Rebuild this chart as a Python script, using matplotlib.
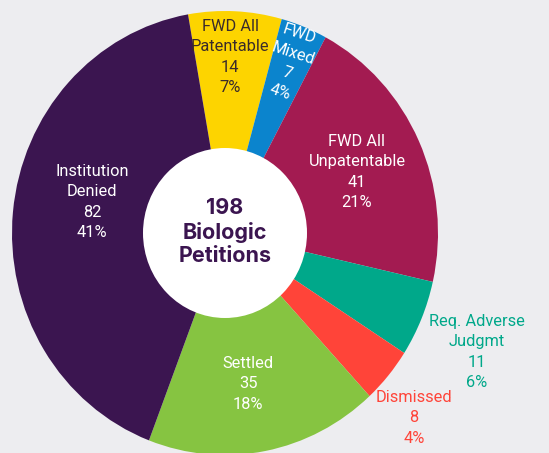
import matplotlib.pyplot as plt
from matplotlib.patches import Ellipse

# data
labels = ["FWD All\nPatentable", "FWD\nMixed", "FWD All\nUnpatentable",
          "Req. Adverse\nJudgmt", "Dismissed", "Settled", "Institution\nDenied"]
counts = [14, 7, 41, 11, 8, 35, 82]
colors = ["#FDD400", "#0B84CD", "#A31B51", "#00A88A", "#FF4439", "#86C441", "#3B1550"]
text_colors = ["#3A2B2B", "white", "white", "#00A88A", "#FF4439", "white", "white"]
total = sum(counts)

# label layout (pixel position from top-left, rotation)
label_px = [(230, 57), (290, 63), (357, 172), (477, 352), (414, 418), (248, 384), (92, 202)]
label_rot = [0, -18, 0, 0, 0, 0, 0]

W, H = 549, 453
cx, cy = 225, 233     # centre in pixels
rx, ry = 213, 222     # outer radius in pixels (slightly stretched vertically)
hole_rx, hole_ry = 82, 85

plt.rcParams['font.family'] = ['Roboto', 'DejaVu Sans']

fig = plt.figure(figsize=(W / 100, H / 100), dpi=100)
fig.patch.set_facecolor("#EDEDF0")
ax = fig.add_axes([0, 0, 1, 1])

ax.pie(counts, colors=colors, startangle=100, counterclock=False,
       radius=1, center=(0, 0), wedgeprops=dict(linewidth=0))
ax.add_patch(Ellipse((0, 0), 2 * hole_rx / rx, 2 * hole_ry / ry,
                     facecolor="white", edgecolor="none", zorder=5))

ax.set_aspect('auto')
ax.set_xlim(-cx / rx, (W - cx) / rx)
ax.set_ylim(-(H - cy) / ry, cy / ry)
ax.axis('off')

def to_data(px, py):
    return (px - cx) / rx, (cy - py) / ry

for lab, n, col, (px, py), rot in zip(labels, counts, text_colors, label_px, label_rot):
    x, y = to_data(px, py)
    pct = round(n / total * 100)
    ax.text(x, y, f"{lab}\n{n}\n{pct}%", ha='center', va='center', color=col,
            fontsize=11.8, linespacing=1.45, rotation=rot, rotation_mode='anchor', zorder=6)

ax.text(0, to_data(0, 232)[1], f"{total}\nBiologic\nPetitions", ha='center', va='center',
        color="#3B1550", fontsize=15.5, fontweight='bold', linespacing=1.2, zorder=6,
        family=['Inter', 'DejaVu Sans'])

fig.savefig("out.png", dpi=100, facecolor=fig.get_facecolor())
